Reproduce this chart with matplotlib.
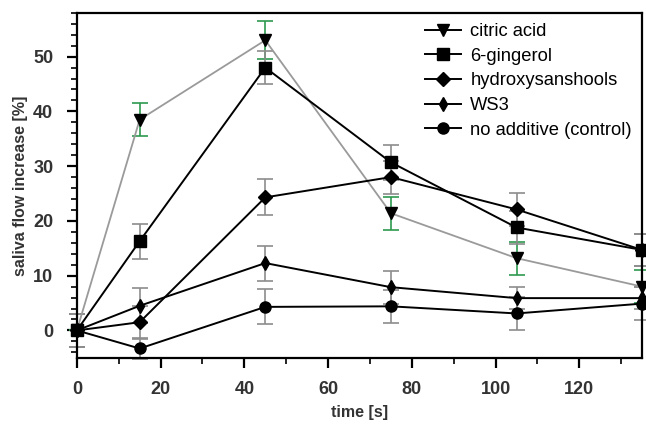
import numpy as np
import matplotlib
matplotlib.use("Agg")
import matplotlib.pyplot as plt
from matplotlib.ticker import MultipleLocator

plt.rcParams["font.family"] = ["Liberation Sans", "DejaVu Sans"]

time_s = [0, 15, 45, 75, 105, 135]

citric = [0, 38.5, 53.0, 21.4, 13.2, 8.0]
citric_err = [0, 3.0, 3.5, 3.0, 3.0, 3.0]

gingerol = [0, 16.3, 48.0, 30.7, 18.8, 14.7]
gingerol_err = [3.0, 3.2, 3.0, 3.2, 3.0, 3.0]

hydroxy = [0, 1.5, 24.3, 28.0, 22.1, 14.7]
hydroxy_err = [3.0, 3.0, 3.3, 3.0, 3.0, 3.0]

ws3 = [0, 4.5, 12.3, 7.9, 5.9, 5.9]
ws3_err = [3.0, 3.2, 3.2, 3.0, 2.0, 2.0]

control = [0, -3.3, 4.3, 4.4, 3.1, 4.9]
control_err = [3.0, 2.0, 3.2, 3.0, 3.0, 3.0]

labels = ["citric acid", "6-gingerol", "hydroxysanshools", "WS3",
          "no additive (control)"]

fig = plt.figure(figsize=(6.46, 4.28), dpi=100)
ax = fig.add_axes([0.119, 0.164, 0.875, 0.806])

grey = "#8c8c8c"
green = "#2e9a4e"

series = [
    (citric, citric_err, "v", 9, "#9a9a9a", green, 1.3),
    (gingerol, gingerol_err, "s", 8, "black", grey, 1.4),
    (hydroxy, hydroxy_err, "D", 7, "black", grey, 1.4),
    (ws3, ws3_err, "d", 7, "black", grey, 1.4),
    (control, control_err, "o", 8, "black", grey, 1.4),
]

handles = []
for (vals, err, mk, ms, lc, ec, lw), lab in zip(series, labels):
    ax.errorbar(time_s, vals, yerr=err, fmt="none", ecolor=ec,
                elinewidth=1.2, capsize=6, capthick=1.2, zorder=2,
                clip_on=False)
    ax.plot(time_s, vals, color=lc, lw=lw, zorder=3, clip_on=False)
    ax.plot(time_s, vals, ls="none", marker=mk, ms=ms, color="black",
            zorder=4, clip_on=False)
    h, = ax.plot([], [], color="black", lw=1.4, marker=mk, ms=ms)
    handles.append(h)

ax.set_xlim(0, 135)
ax.set_ylim(-5, 58)
ax.xaxis.set_major_locator(MultipleLocator(20))
ax.xaxis.set_minor_locator(MultipleLocator(10))
ax.yaxis.set_major_locator(MultipleLocator(10))
ax.yaxis.set_minor_locator(MultipleLocator(2))
ax.tick_params(which="major", length=7, width=1.6, labelsize=13)
ax.tick_params(which="minor", length=4, width=1.2)
ax.tick_params(axis="x", which="major", pad=10)
ax.tick_params(axis="y", which="major", pad=10)
for lab in ax.get_xticklabels() + ax.get_yticklabels():
    lab.set_fontweight("bold")
    lab.set_color("#333333")
for sp in ax.spines.values():
    sp.set_linewidth(1.6)

ax.set_xlabel("time [s]", fontsize=11.5, fontweight="bold", color="#333333",
              labelpad=5)
ax.set_ylabel("saliva flow increase [%]", fontsize=11.5, fontweight="bold",
              color="#333333", labelpad=4)

ax.legend(handles, labels, loc="upper right", frameon=False, fontsize=13.2,
          handlelength=2.0, labelspacing=0.42, borderaxespad=0.15,
          handletextpad=0.5)

fig.savefig("out.png", dpi=100)
